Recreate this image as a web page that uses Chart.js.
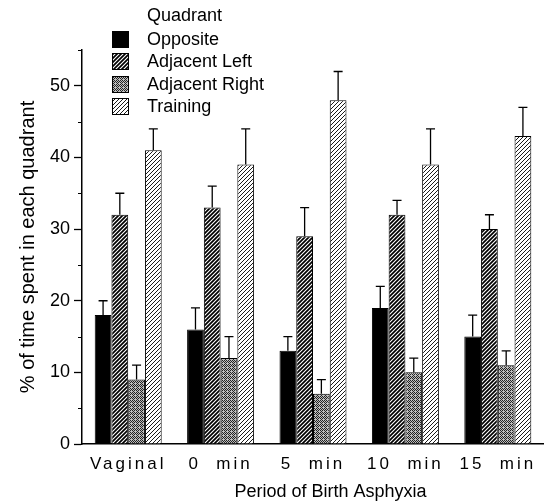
<!DOCTYPE html>
<html>
<head>
<meta charset="utf-8">
<script src="https://cdn.jsdelivr.net/npm/chart.js@4"></script>
<style>
    body { margin: 0; background: #fff; }
    .wrap { position: relative; width: 544px; height: 503px; }
    .legend {
        position: absolute; left: 112px; top: 3px;
        font: 18px "Liberation Sans", Arial, sans-serif; color: #000;
    }
    .legend__title { margin-left: 35px; height: 25px; line-height: 24px; }
    .legend__row { display: flex; align-items: center; height: 22.5px; }
    .legend__row canvas { width: 17px; height: 17px; margin-right: 18px; }
</style>
</head>
<body>
<div class="wrap">
    <canvas id="quadrantChart" width="544" height="503"></canvas>
    <div class="legend" id="legend">
        <div class="legend__title">Quadrant</div>
    </div>
</div>
<script>
const categories = ['Vaginal', '0  min', '5  min', '10  min', '15  min'];
const seriesNames = ['Opposite', 'Adjacent Left', 'Adjacent Right', 'Training'];

const opposite = [18, 16, 13, 19, 15];
const oppositeErr = [2, 3, 2, 3, 3];
const adjacentLeft = [32, 33, 29, 32, 30];
const adjacentLeftErr = [3, 3, 4, 2, 2];
const adjacentRight = [9, 12, 7, 10, 11];
const adjacentRightErr = [2, 3, 2, 2, 2];
const training = [41, 39, 48, 39, 43];
const trainingErr = [3, 5, 4, 5, 4];

const yTicks = [0, 10, 20, 30, 40, 50];

const font = '"Liberation Sans", Arial, sans-serif';

// fill patterns
const hatch = (bg, fg, size, lw) => {
    const c = document.createElement('canvas');
    c.width = c.height = size;
    const x = c.getContext('2d');
    x.fillStyle = bg;
    x.fillRect(0, 0, size, size);
    x.strokeStyle = fg;
    x.lineWidth = lw;
    x.beginPath();
    x.moveTo(0, size); x.lineTo(size, 0);
    x.moveTo(-1, 1); x.lineTo(1, -1);
    x.moveTo(size - 1, size + 1); x.lineTo(size + 1, size - 1);
    x.stroke();
    return x.createPattern(c, 'repeat');
}

const stipple = () => {
    const c = document.createElement('canvas');
    c.width = c.height = 4;
    const x = c.getContext('2d');
    x.fillStyle = '#bdbdbd';
    x.fillRect(0, 0, 4, 4);
    x.fillStyle = '#222';
    [[0, 0], [2, 0], [1, 1], [3, 1], [0, 2], [2, 2], [1, 3]].forEach(([i, j]) => x.fillRect(i, j, 1, 1));
    return x.createPattern(c, 'repeat');
}

const fills = [
    '#000',
    hatch('#000', '#fff', 4, 1.1),
    stipple(),
    hatch('#fff', '#000', 4, 0.9)
];

const values = [opposite, adjacentLeft, adjacentRight, training];
const errors = [oppositeErr, adjacentLeftErr, adjacentRightErr, trainingErr];

const errorBars = {
    id: 'errorBars',
    afterDatasetsDraw(chart) {
        const { ctx } = chart;
        const y = chart.scales.y;
        ctx.save();
        ctx.strokeStyle = '#000';
        ctx.lineWidth = 1.3;
        chart.data.datasets.forEach((ds, i) => {
            chart.getDatasetMeta(i).data.forEach((bar, j) => {
                const top = y.getPixelForValue(ds.data[j] + ds.errors[j]);
                ctx.beginPath();
                ctx.moveTo(bar.x, bar.y);
                ctx.lineTo(bar.x, top);
                ctx.moveTo(bar.x - 4.5, top);
                ctx.lineTo(bar.x + 4.5, top);
                ctx.stroke();
            });
        });
        ctx.restore();
        // x tick labels are drawn after this (ticks.z = 1), spaced out like the original
        ctx.letterSpacing = '3px';
    },
    afterDraw(chart) {
        chart.ctx.letterSpacing = '0px';
    }
};

const minorTicks = {
    id: 'minorTicks',
    afterDraw(chart) {
        const { ctx } = chart;
        const y = chart.scales.y;
        ctx.save();
        ctx.strokeStyle = '#000';
        ctx.lineWidth = 1;
        y.ticks.forEach(t => {
            if (t.value % 10 === 0) return;
            const py = Math.round(y.getPixelForValue(t.value)) + 0.5;
            ctx.beginPath();
            ctx.moveTo(y.right - 4, py);
            ctx.lineTo(y.right, py);
            ctx.stroke();
        });
        ctx.restore();
    }
};

const chart = new Chart(document.getElementById('quadrantChart'), {
    type: 'bar',
    data: {
        labels: categories,
        datasets: seriesNames.map((name, i) => ({
            label: name,
            data: values[i],
            errors: errors[i],
            backgroundColor: fills[i],
            borderColor: '#000',
            borderWidth: 1,
            borderSkipped: 'bottom',
            barPercentage: 1,
            categoryPercentage: 0.725
        }))
    },
    options: {
        responsive: false,
        devicePixelRatio: 1,
        animation: false,
        layout: { padding: { left: 4, top: 50, right: 0, bottom: 0 } },
        plugins: {
            legend: { display: false },
            tooltip: { enabled: false }
        },
        scales: {
            x: {
                grid: { display: false, drawTicks: false },
                border: { display: true, color: '#000', width: 1.5 },
                ticks: { z: 1, color: '#000', font: { family: font, size: 17 }, padding: 10 },
                title: {
                    display: true,
                    text: '\u00a0\u00a0\u00a0\u00a0\u00a0\u00a0\u00a0Period of Birth Asphyxia',
                    color: '#000',
                    font: { family: font, size: 18 },
                    padding: { top: 0, bottom: 0 }
                },
                afterFit: s => { s.height = 59; }
            },
            y: {
                min: 0,
                max: 55,
                grid: {
                    drawOnChartArea: false,
                    tickLength: 8,
                    tickWidth: 1.3,
                    tickColor: c => (c.tick && yTicks.includes(c.tick.value)) ? '#000' : 'rgba(0,0,0,0)'
                },
                border: { display: true, color: '#000', width: 1.5 },
                ticks: {
                    stepSize: 5,
                    color: '#000',
                    padding: 4,
                    font: { family: font, size: 18 },
                    callback: v => yTicks.includes(v) ? v : ''
                },
                title: {
                    display: true,
                    text: '% of time spent in each quadrant',
                    color: '#000',
                    font: { family: font, size: 20 },
                    padding: { top: 12, bottom: 0 }
                },
                afterFit: s => { s.width = 78; }
            }
        }
    },
    plugins: [errorBars, minorTicks]
});

// html legend with the same swatches
const legend = document.getElementById('legend');
seriesNames.forEach((name, i) => {
    const row = document.createElement('div');
    row.className = 'legend__row';
    const sw = document.createElement('canvas');
    sw.width = sw.height = 17;
    const sctx = sw.getContext('2d');
    sctx.fillStyle = fills[i];
    sctx.fillRect(0, 0, 17, 17);
    sctx.strokeStyle = '#000';
    sctx.strokeRect(0.5, 0.5, 16, 16);
    const label = document.createElement('span');
    label.textContent = name;
    row.append(sw, label);
    legend.append(row);
});
</script>
</body>
</html>
